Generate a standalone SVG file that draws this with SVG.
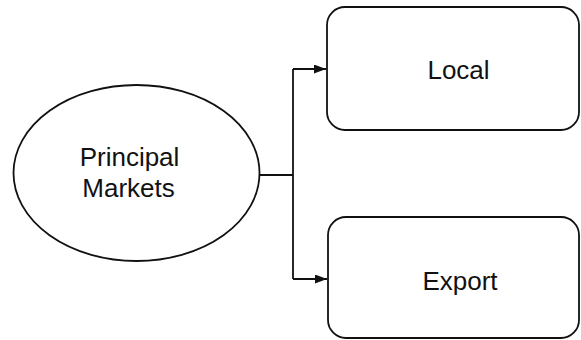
<svg xmlns="http://www.w3.org/2000/svg" width="581" height="340" viewBox="0 0 581 340">
<defs>
<style>
.shape{fill:#fff;stroke:#111;stroke-width:1.8}
.lbl{font-family:"Liberation Sans",Arial,sans-serif;font-size:26px;fill:#111;text-anchor:middle}
.conn{fill:none;stroke:#111;stroke-width:1.8}
</style>
<marker id="arr" viewBox="0 0 12 9" refX="12" refY="4.5" markerWidth="12" markerHeight="9" markerUnits="userSpaceOnUse" orient="auto">
<path d="M0,0 L12,4.5 L0,9 Z" fill="#111"/>
</marker>
</defs>
<g id="principal">
<ellipse class="shape" cx="136.5" cy="173" rx="123" ry="88"/>
<text class="lbl" x="129.5" y="166">Principal</text>
<text class="lbl" x="128.5" y="197">Markets</text>
</g>
<g id="local">
<rect class="shape" x="327" y="7" width="252" height="123" rx="18" ry="18"/>
<text class="lbl" x="458.5" y="79">Local</text>
</g>
<g id="export">
<rect class="shape" x="328" y="217" width="251" height="121" rx="18" ry="18"/>
<text class="lbl" x="460" y="290">Export</text>
</g>
<g id="connectors">
<path class="conn" d="M260,175 H293"/>
<path class="conn" d="M293,69 V279"/>
<path class="conn" d="M293,69 H326" marker-end="url(#arr)"/>
<path class="conn" d="M293,279 H327" marker-end="url(#arr)"/>
</g>
</svg>
